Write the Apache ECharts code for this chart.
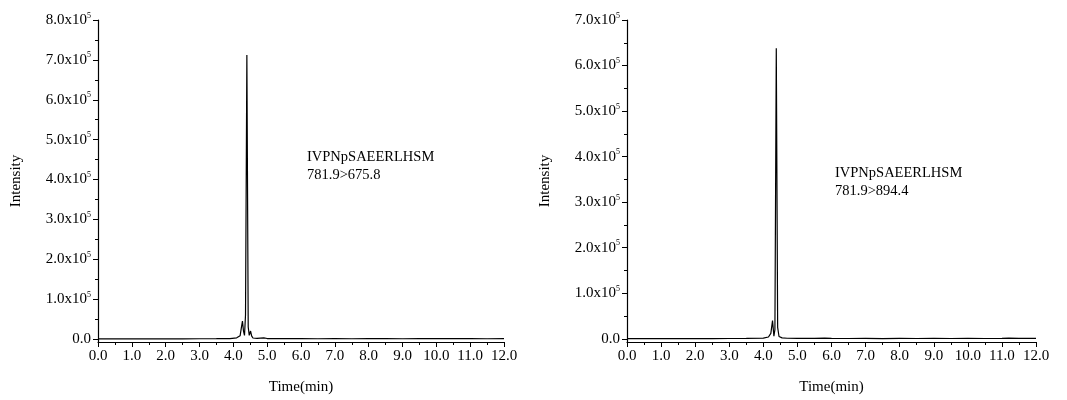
<!DOCTYPE html>
<html>
<head>
<meta charset="utf-8">
<script src="https://cdn.jsdelivr.net/npm/echarts@6/dist/echarts.min.js"></script>
<style>
html, body { margin: 0; padding: 0; background: #fff; }
#chart { width: 1067px; height: 400px; }
</style>
</head>
<body>
<div id="chart"></div>
<script>
// chromatogram 1 : 781.9>675.8
var timeA = [0, 0.5, 1.0, 1.5, 2.0, 2.5, 3.0, 3.5, 3.9, 4.1, 4.2, 4.24, 4.27, 4.30, 4.33, 4.36, 4.40, 4.44, 4.47, 4.51, 4.54, 4.58, 4.7, 4.9, 5.0, 5.5, 6.0, 6.5, 7.0, 7.5, 8.0, 8.5, 9.0, 9.5, 10.0, 10.5, 11.0, 11.5, 12.0];
var intA = [300, 500, 400, 600, 500, 400, 600, 800, 1200, 3000, 8000, 30000, 45000, 20000, 9000, 60000, 712000, 30000, 9000, 20000, 8000, 2500, 1500, 3000, 1200, 800, 1000, 700, 900, 600, 800, 1000, 700, 900, 1100, 800, 1000, 700, 900];

// chromatogram 2 : 781.9>894.4
var timeB = [0, 0.5, 1.0, 1.5, 2.0, 2.5, 3.0, 3.5, 4.0, 4.15, 4.22, 4.27, 4.31, 4.34, 4.38, 4.42, 4.46, 4.55, 4.7, 5.0, 5.5, 5.8, 6.0, 6.5, 7.0, 7.5, 8.0, 8.5, 9.0, 9.5, 10.0, 10.5, 11.0, 11.2, 11.5, 12.0];
var intB = [400, 500, 400, 600, 500, 600, 700, 900, 1500, 4000, 12000, 40000, 6000, 20000, 638000, 25000, 5000, 2000, 1200, 900, 800, 1600, 900, 700, 800, 600, 800, 700, 900, 700, 800, 700, 900, 1400, 800, 900];

var yTicksA = [0, 100000, 200000, 300000, 400000, 500000, 600000, 700000, 800000];
var yMinorA = [50000, 150000, 250000, 350000, 450000, 550000, 650000, 750000];
var yTicksB = [0, 100000, 200000, 300000, 400000, 500000, 600000, 700000];
var yMinorB = [50000, 150000, 250000, 350000, 450000, 550000, 650000];

var labelA = ['IVPNpSAEERLHSM', '781.9>675.8'];
var labelB = ['IVPNpSAEERLHSM', '781.9>894.4'];

var FONT = '"Liberation Serif", "Times New Roman", serif';

var myChart = echarts.init(document.getElementById('chart'));

function pairs(t, v) {
	var out = [];
	for (var i = 0; i < t.length; i++) {
		out.push([t[i], v[i]]);
	}
	return out;
}

function yFmt(v) {
	if (v === 0) return '{a|0.0}';
	return '{a|' + (v / 100000).toFixed(1) + 'x10}{s|5}';
}

function xAxisFor(idx) {
	return {
		type: 'value',
		gridIndex: idx,
		min: 0,
		max: 12,
		interval: 1,
		name: 'Time(min)',
		nameLocation: 'middle',
		nameGap: 38,
		nameTextStyle: { fontFamily: FONT, fontSize: 15, color: '#000' },
		axisLine: { onZero: false, lineStyle: { color: '#000', width: 1.2 } },
		axisTick: { length: 5, lineStyle: { color: '#000' } },
		minorTick: { show: true, splitNumber: 2, length: 3, lineStyle: { color: '#000' } },
		splitLine: { show: false },
		axisLabel: {
			color: '#000', fontFamily: FONT, fontSize: 15, margin: 7,
			formatter: function (v) { return v.toFixed(1); }
		}
	};
}

function yAxisFor(idx, min, max, ticks) {
	return {
		type: 'value',
		gridIndex: idx,
		position: 'left',
		min: min,
		max: max,
		name: 'Intensity',
		nameLocation: 'middle',
		nameGap: 74,
		nameTextStyle: { fontFamily: FONT, fontSize: 15, color: '#000' },
		axisLine: { show: true, lineStyle: { color: '#000', width: 1.2 } },
		axisTick: { show: true, length: 5, customValues: ticks, lineStyle: { color: '#000' } },
		splitLine: { show: false },
		axisLabel: {
			customValues: ticks,
			margin: 7,
			formatter: yFmt,
			rich: {
				a: { color: '#000', fontFamily: FONT, fontSize: 15 },
				s: { color: '#000', fontFamily: FONT, fontSize: 8, verticalAlign: 'top', padding: [0, 0, 9, 0] }
			}
		}
	};
}

function yMinorFor(idx, min, max, ticks) {
	return {
		type: 'value',
		gridIndex: idx,
		position: 'left',
		min: min,
		max: max,
		axisLine: { show: false },
		axisTick: { show: true, length: 3, customValues: ticks, lineStyle: { color: '#000' } },
		axisLabel: { show: false, customValues: ticks },
		splitLine: { show: false }
	};
}

function noteText(x, y, lines) {
	return {
		type: 'text',
		left: x,
		top: y,
		style: {
			text: lines.join('\n'),
			fontFamily: FONT,
			fontSize: 14.5,
			lineHeight: 18,
			fill: '#000'
		}
	};
}

var option = {
	backgroundColor: '#fff',
	animation: false,
	grid: [
		{ left: 98, top: 20, width: 406, height: 323 },
		{ left: 627, top: 20, width: 409, height: 323 }
	],
	xAxis: [xAxisFor(0), xAxisFor(1)],
	yAxis: [
		yAxisFor(0, -7500, 800000, yTicksA),
		yMinorFor(0, -7500, 800000, yMinorA),
		yAxisFor(1, -7000, 700000, yTicksB),
		yMinorFor(1, -7000, 700000, yMinorB)
	],
	graphic: [
		noteText(307, 148, labelA),
		noteText(835, 164, labelB)
	],
	series: [
		{
			type: 'line',
			xAxisIndex: 0,
			yAxisIndex: 0,
			showSymbol: false,
			lineStyle: { color: '#000', width: 1.2 },
			data: pairs(timeA, intA)
		},
		{
			type: 'line',
			xAxisIndex: 1,
			yAxisIndex: 2,
			showSymbol: false,
			lineStyle: { color: '#000', width: 1.2 },
			data: pairs(timeB, intB)
		}
	]
};
myChart.setOption(option);
</script>
</body>
</html>
